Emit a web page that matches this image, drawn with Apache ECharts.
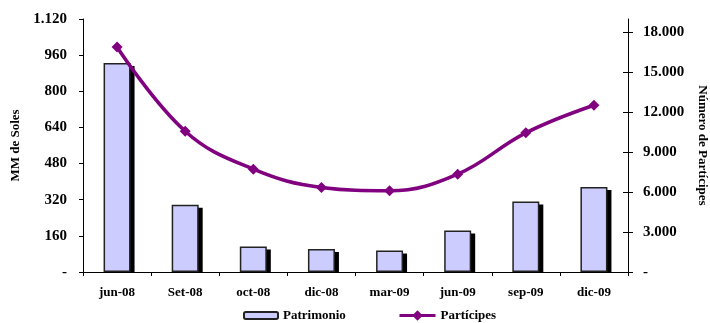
<!DOCTYPE html>
<html>
<head>
<meta charset="utf-8">
<script src="https://cdn.jsdelivr.net/npm/echarts@6/dist/echarts.min.js"></script>
<style>
html,body{margin:0;padding:0;background:#fff;}
#chart{width:710px;height:323px;}
</style>
</head>
<body>
<div id="chart"></div>
<script>
var categories = ['jun-08','Set-08','oct-08','dic-08','mar-09','jun-09','sep-09','dic-09'];
var patrimonio = [925, 298, 113, 102, 95, 184, 312, 376];
var participes = [16900, 10575, 7725, 6350, 6100, 7350, 10450, 12525];
var leftTicks = [0, 160, 320, 480, 640, 800, 960, 1120];
var rightTicks = [0, 3000, 6000, 9000, 12000, 15000, 18000];

function fmt(v){
  if (v === 0) return '-';
  return String(v).replace(/\B(?=(\d{3})+(?!\d))/g, '.');
}
var font = 'Liberation Serif';
// main plot: left 83, top 19, bottom 51 (height 253)
var plotH = 253;
var leftMax = leftTicks[leftTicks.length-1];
var pxPerUnit = plotH / leftMax;
var shDx = 4, shDy = 3;
var shMin = shDy / pxPerUnit;
var shMax = shMin + (plotH - shDy) / pxPerUnit;
var legendText = {fontFamily:font, fontWeight:'bold', fontSize:13, color:'#000'};

var chart = echarts.init(document.getElementById('chart'), null, {renderer:'canvas'});
chart.setOption({
  animation:false,
  backgroundColor:'#fff',
  grid:[
    {left:83, right:82, top:19, bottom:51, containLabel:false, outerBoundsMode:'none'},
    {left:83+shDx, right:82-shDx, top:19+shDy, bottom:51, containLabel:false, outerBoundsMode:'none'}
  ],
  legend:[{
    data:['Patrimonio'], padding:0,
    left:243, top:309, itemWidth:34, itemHeight:7,
    textStyle:legendText
  },{
    data:['Partícipes'], padding:0,
    left:398, top:309, itemWidth:36, itemHeight:13,
    lineStyle:{width:3},
    textStyle:legendText
  }],
  xAxis:[{
    type:'category', data:categories, gridIndex:0,
    axisLine:{lineStyle:{color:'#000', width:1}},
    axisTick:{show:true, length:4, interval:0, lineStyle:{color:'#000'}},
    axisLabel:{margin:14, interval:0, fontFamily:font, fontWeight:'bold', fontSize:13, color:'#000'}
  },{
    type:'category', data:categories, gridIndex:1, show:false
  }],
  yAxis:[{
    type:'value', min:leftTicks[0], max:leftMax, interval:160, gridIndex:0,
    name:'MM de Soles', nameLocation:'middle', nameGap:60,
    nameTextStyle:{fontFamily:font, fontWeight:'bold', fontSize:13, color:'#000'},
    axisLine:{show:true, lineStyle:{color:'#000'}},
    axisTick:{show:true, length:4, lineStyle:{color:'#000'}},
    splitLine:{show:false},
    axisLabel:{margin:16, formatter:fmt, fontFamily:font, fontWeight:'bold', fontSize:15, color:'#000'}
  },{
    type:'value', min:0, max:19000, position:'right', gridIndex:0,
    name:'Número de Partícipes', nameLocation:'middle', nameGap:68, nameRotate:-90,
    nameTextStyle:{fontFamily:font, fontWeight:'bold', fontSize:13, color:'#000'},
    axisLine:{show:true, lineStyle:{color:'#000'}},
    axisTick:{show:true, length:5, customValues:rightTicks, lineStyle:{color:'#000'}},
    splitLine:{show:false},
    axisLabel:{margin:15, customValues:rightTicks, formatter:fmt, fontFamily:font, fontWeight:'bold', fontSize:15, color:'#000'}
  },{
    type:'value', min:0, max:19000, position:'right', gridIndex:0,
    axisLine:{show:false},
    axisTick:{show:true, inside:true, length:5, customValues:rightTicks, lineStyle:{color:'#000'}},
    splitLine:{show:false},
    axisLabel:{show:false}
  },{
    type:'value', min:shMin, max:shMax, gridIndex:1, show:false
  }],
  series:[{
    name:'sombra', type:'bar', data:patrimonio, barWidth:27, xAxisIndex:1, yAxisIndex:3,
    itemStyle:{color:'#000'}, silent:true
  },{
    name:'Patrimonio', type:'bar', data:patrimonio, barWidth:27, xAxisIndex:0, yAxisIndex:0,
    itemStyle:{color:'#ccccff', borderColor:'#222', borderWidth:1.5}
  },{
    name:'Partícipes', type:'line', data:participes, xAxisIndex:0, yAxisIndex:1, smooth:0.4,
    symbol:'diamond', symbolSize:11,
    lineStyle:{color:'#800080', width:3.5},
    itemStyle:{color:'#800080'}
  }]
});
</script>
</body>
</html>
